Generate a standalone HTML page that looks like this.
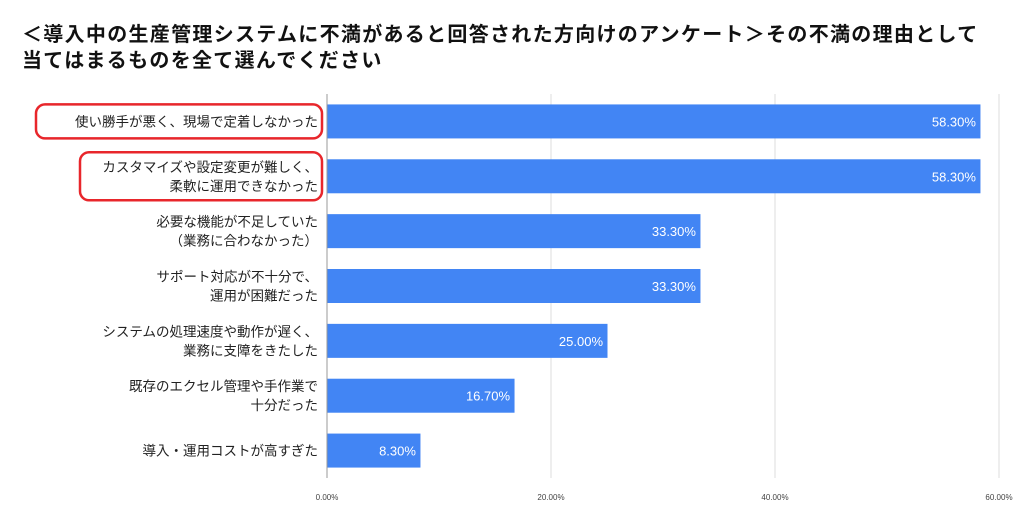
<!DOCTYPE html>
<html><head><meta charset="utf-8"><style>
body{margin:0;background:#fff;font-family:"Liberation Sans","Noto Sans CJK JP",sans-serif;}
#wrap{position:relative;width:1024px;height:513px;overflow:hidden;}
.title{position:absolute;left:22px;top:22px;font-size:20px;font-weight:bold;color:#111;line-height:26px;letter-spacing:1.3px;white-space:nowrap;}
</style></head><body>
<div id="wrap">
<div class="title">＜導入中の生産管理システムに不満があると回答された方向けのアンケート＞その不満の理由として<br>当てはまるものを全て選んでください</div>
<svg id="svg" width="1024" height="513" style="position:absolute;left:0;top:0"></svg>
</div>
<script>
const categories=[["使い勝手が悪く、現場で定着しなかった"],["カスタマイズや設定変更が難しく、","柔軟に運用できなかった"],["必要な機能が不足していた","（業務に合わなかった）"],["サポート対応が不十分で、","運用が困難だった"],["システムの処理速度や動作が遅く、","業務に支障をきたした"],["既存のエクセル管理や手作業で","十分だった"],["導入・運用コストが高すぎた"]];
const values=[58.3,58.3,33.3,33.3,25.0,16.7,8.3];
const ticks=[0,20,40,60];
const highlighted=[0,1];
const NS="http://www.w3.org/2000/svg";
const svgEl=document.getElementById('svg');
const x0=327,pxPer=11.2,plotTop=94,plotBottom=478;
const band=(plotBottom-plotTop)/categories.length;
const xs=v=>x0+v*pxPer;
function mk(t,a){const e=document.createElementNS(NS,t);for(const k in a)e.setAttribute(k,a[k]);svgEl.appendChild(e);return e;}
ticks.forEach(t=>{
  const g=mk('line',{x1:xs(t),x2:xs(t),y1:plotTop,y2:plotBottom,stroke:t===0?'#999':'#ddd','stroke-width':1});
  
  
  const l=mk('text',{x:xs(t),y:500,'font-size':8,'text-anchor':'middle',fill:'#444'});
  l.textContent=t.toFixed(2)+'%';
  
  
});
categories.forEach((c,i)=>{
  const cy=plotTop+band*(i+0.5);
  const r=mk('rect',{x:xs(0)+0.5,y:cy-17,width:values[i]*pxPer,height:34,fill:'#4285f4'});
  
  
  const v=mk('text',{x:xs(values[i])-4,y:cy+5,'font-size':13,'text-anchor':'end',fill:'#fff'});
  v.textContent=values[i].toFixed(2)+'%';
  
  
  const n=c.length;
  c.forEach((line,j)=>{
    const t=mk('text',{x:318,y:cy+5+(j-(n-1)/2)*19,'font-size':13.5,'text-anchor':'end',fill:'#222'});
    t.textContent=line;
    
    
  });
  if(highlighted.includes(i)){
    const w=n===1?286:242;
    const h=n===1?34:48;
    const b=mk('rect',{x:322-w,y:cy-h/2,width:w,height:h,rx:9,fill:'none',stroke:'#e8262b','stroke-width':2.5});
    
    
  }
});
</script>
</body></html>
